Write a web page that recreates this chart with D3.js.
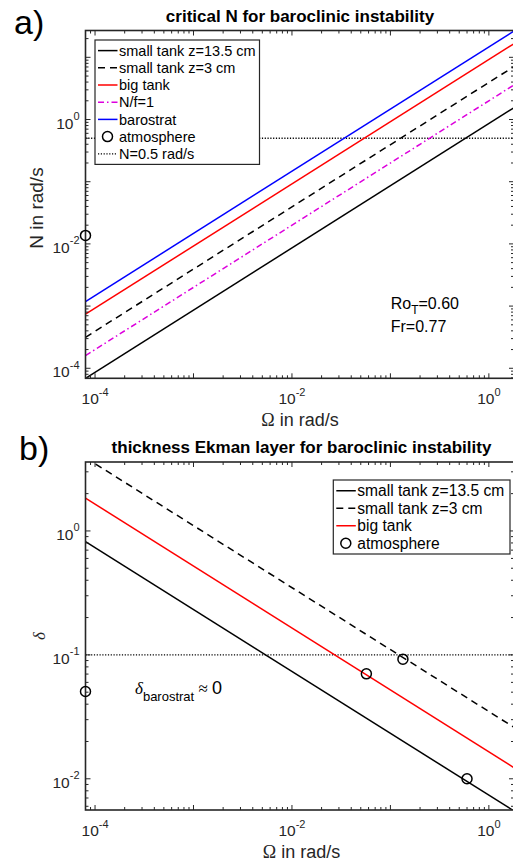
<!DOCTYPE html>
<html lang="en">
<head>
<meta charset="UTF-8">
<title>baroclinic instability</title>
<script src="https://cdn.jsdelivr.net/npm/d3@7"></script>
<style>
  html, body { margin: 0; padding: 0; background: #fff; }
  svg { display: block; font-family: "Liberation Sans", Arial, Helvetica, sans-serif; }
</style>
</head>
<body>
<svg width="513" height="861"></svg>
<script>
// Omega range shared by both panels (rad/s)
const omegaEnds = [8e-5, 1.8]

// panel a: critical N, read at the two ends of omegaEnds
const seriesA = ['small tank z=13.5 cm', 'small tank z=3 cm', 'big tank', 'N/f=1', 'barostrat']
const nStart = [6.9e-5, 3.15e-4, 7.4e-4, 1.6e-4, 1.18e-3]
const nEnd = [1.55, 7.1, 16.6, 3.6, 26.5]
const atmosA = [[8e-5, 0.0137]]
const nLimit = 0.5

// panel b: thickness of the Ekman layer
const seriesB = ['small tank z=13.5 cm', 'small tank z=3 cm', 'big tank']
const deltaStart = [0.82, 3.9, 1.84]
const deltaEnd = [0.0055, 0.026, 0.0123]
const atmosB = [[8e-5, 0.0506], [0.057, 0.0703], [0.134, 0.0923], [0.6, 0.01]]
const deltaLimit = 0.1

const xTickLabels = [1e-4, 1e-2, 1]
const yTickLabelsA = [1e-4, 1e-2, 1]
const yTickLabelsB = [1e-2, 1e-1, 1]

const styles = {
  'small tank z=13.5 cm': { color: '#000', dash: null },
  'small tank z=3 cm': { color: '#000', dash: '7,5' },
  'big tank': { color: '#ff0000', dash: null },
  'N/f=1': { color: '#dd00dd', dash: '6,3,1.5,3' },
  'barostrat': { color: '#0000ff', dash: null }
}
const axisColor = '#262626'
const dotted = '1.2,1.6'
const serif = '"Liberation Serif", "Times New Roman", serif'

const svg = d3.select('svg')
const left = 85.5, right = 514

function logTicks(domain) {
  const out = []
  const e0 = Math.floor(Math.log10(domain[0])), e1 = Math.ceil(Math.log10(domain[1]))
  for (let e = e0; e <= e1; e++) {
    for (let k = 1; k <= 9; k++) {
      const v = k * Math.pow(10, e)
      if (v >= domain[0] * 0.999 && v <= domain[1] * 1.001) out.push({ v, major: k === 1 })
    }
  }
  return out
}

function powLabel(g, v, x, y, anchor) {
  const t = g.append('text')
    .attr('x', x).attr('y', y)
    .attr('text-anchor', anchor)
    .attr('font-size', 15.5)
    .attr('fill', axisColor)
  t.append('tspan').text('10')
  t.append('tspan').attr('dy', -8.5).attr('font-size', 11).text(Math.round(Math.log10(v)))
}

function panel(id, top, bottom, yDomain, yLabels) {
  const x = d3.scaleLog().domain(omegaEnds).range([left, right])
  const y = d3.scaleLog().domain(yDomain).range([bottom, top])
  const g = svg.append('g')

  svg.append('clipPath').attr('id', 'clip-' + id)
    .append('rect').attr('x', left).attr('y', top)
    .attr('width', right - left).attr('height', bottom - top)

  const plot = g.append('g').attr('clip-path', `url(#clip-${id})`)

  // ticks on all four sides, pointing inward
  const ax = g.append('g').attr('stroke', axisColor).attr('stroke-width', 1)
  logTicks(omegaEnds).forEach(t => {
    const len = t.major ? 5 : 3
    const px = x(t.v)
    ax.append('line').attr('x1', px).attr('x2', px).attr('y1', bottom).attr('y2', bottom - len)
    ax.append('line').attr('x1', px).attr('x2', px).attr('y1', top).attr('y2', top + len)
  })
  logTicks(yDomain).forEach(t => {
    const len = t.major ? 5 : 3
    const py = y(t.v)
    ax.append('line').attr('x1', left).attr('x2', left + len).attr('y1', py).attr('y2', py)
    ax.append('line').attr('x1', right).attr('x2', right - len).attr('y1', py).attr('y2', py)
  })

  g.append('rect')
    .attr('x', left).attr('y', top)
    .attr('width', right - left).attr('height', bottom - top)
    .attr('fill', 'none').attr('stroke', axisColor).attr('stroke-width', 1.6)

  xTickLabels.forEach(v => powLabel(g, v, x(v), bottom + 26, 'middle'))
  yLabels.forEach(v => powLabel(g, v, left - 6, y(v) + 9, 'end'))

  return { x, y, g, plot }
}

function drawLines(p, names, starts, ends) {
  const line = d3.line().x(d => p.x(d[0])).y(d => p.y(d[1]))
  names.forEach((name, i) => {
    const s = styles[name]
    p.plot.append('path')
      .datum([[omegaEnds[0], starts[i]], [omegaEnds[1], ends[i]]])
      .attr('d', line)
      .attr('fill', 'none')
      .attr('stroke', s.color)
      .attr('stroke-width', 1.5)
      .attr('stroke-dasharray', s.dash)
  })
}

function drawLimit(p, value) {
  p.plot.append('line')
    .attr('x1', left).attr('x2', right)
    .attr('y1', p.y(value)).attr('y2', p.y(value))
    .attr('stroke', '#000').attr('stroke-width', 1.3)
    .attr('stroke-dasharray', dotted)
}

function drawCircles(p, pts) {
  p.g.selectAll(null).data(pts).enter().append('circle')
    .attr('cx', d => p.x(d[0]))
    .attr('cy', d => p.y(d[1]))
    .attr('r', 5)
    .attr('fill', 'none')
    .attr('stroke', '#000')
    .attr('stroke-width', 1.5)
}

function legend(entries, x0, y0, w, rowH, fontSize) {
  const h = entries.length * rowH + 4
  const lg = svg.append('g')
  lg.append('rect').attr('x', x0).attr('y', y0).attr('width', w).attr('height', h)
    .attr('fill', '#fff').attr('stroke', axisColor).attr('stroke-width', 1.2)
  entries.forEach((e, i) => {
    const cy = y0 + 2 + rowH * (i + 0.5)
    if (e.kind === 'marker') {
      lg.append('circle').attr('cx', x0 + 12.5).attr('cy', cy).attr('r', 5)
        .attr('fill', 'none').attr('stroke', '#000').attr('stroke-width', 1.5)
    } else {
      lg.append('line')
        .attr('x1', x0 + 3).attr('x2', x0 + 22.5).attr('y1', cy).attr('y2', cy)
        .attr('stroke', e.color).attr('stroke-width', e.kind === 'dotted' ? 1.3 : 1.5)
        .attr('stroke-dasharray', e.dash)
    }
    lg.append('text').attr('x', x0 + 24).attr('y', cy + fontSize * 0.36)
      .attr('font-size', fontSize).attr('fill', '#000').text(e.name)
  })
}

// ---- panel a ----
const pa = panel('a', 30.5, 378.3, [6.9e-5, 27], yTickLabelsA)
drawLimit(pa, nLimit)
drawLines(pa, seriesA, nStart, nEnd)
drawCircles(pa, atmosA)

legend(
  seriesA.map(n => ({ name: n, color: styles[n].color, dash: styles[n].dash }))
    .concat([{ name: 'atmosphere', kind: 'marker' },
             { name: 'N=0.5 rad/s', kind: 'dotted', color: '#000', dash: dotted }]),
  95, 40, 164.5, 17.2, 14.5)

svg.append('text').attr('x', 300).attr('y', 22).attr('text-anchor', 'middle')
  .attr('font-size', 17).attr('font-weight', 'bold').text('critical N for baroclinic instability')
svg.append('text').attr('x', 14).attr('y', 34).attr('font-size', 34).text('a)')

svg.append('text').attr('transform', 'translate(43,208) rotate(-90)')
  .attr('text-anchor', 'middle').attr('font-size', 19).attr('fill', axisColor)
  .text('N in rad/s')

const xa = svg.append('text').attr('x', 300).attr('y', 426).attr('text-anchor', 'middle')
  .attr('font-size', 18).attr('fill', axisColor)
xa.append('tspan').attr('font-family', serif).text('\u03A9')
xa.append('tspan').text(' in rad/s')

const ro = svg.append('text').attr('x', 390.7).attr('y', 309.3).attr('font-size', 16).attr('fill', '#000')
ro.append('tspan').text('Ro')
ro.append('tspan').attr('dy', 5).attr('font-size', 12).text('T')
ro.append('tspan').attr('dy', -5).text('=0.60')
svg.append('text').attr('x', 390.7).attr('y', 331.7).attr('font-size', 16).text('Fr=0.77')

// ---- panel b ----
const pb = panel('b', 462, 810, [5.6e-3, 3.6], yTickLabelsB)
drawLimit(pb, deltaLimit)
drawLines(pb, seriesB, deltaStart, deltaEnd)
drawCircles(pb, atmosB)

legend(
  seriesB.map(n => ({ name: n, color: styles[n].color, dash: styles[n].dash }))
    .concat([{ name: 'atmosphere', kind: 'marker' }]),
  333.3, 480, 176.7, 17.5, 15.6)

svg.append('text').attr('x', 301.5).attr('y', 453).attr('text-anchor', 'middle')
  .attr('font-size', 17).attr('font-weight', 'bold').text('thickness Ekman layer for baroclinic instability')
svg.append('text').attr('x', 19).attr('y', 460).attr('font-size', 34).text('b)')

svg.append('text').attr('transform', 'translate(45,636) rotate(-90)')
  .attr('text-anchor', 'middle').attr('font-size', 17).attr('font-style', 'italic')
  .attr('font-family', serif).attr('fill', axisColor)
  .text('\u03B4')

const xb = svg.append('text').attr('x', 301.5).attr('y', 858).attr('text-anchor', 'middle')
  .attr('font-size', 18).attr('fill', axisColor)
xb.append('tspan').attr('font-family', serif).text('\u03A9')
xb.append('tspan').text(' in rad/s')

const db = svg.append('text').attr('x', 135).attr('y', 694).attr('font-size', 17).attr('fill', '#000')
db.append('tspan').attr('font-style', 'italic').attr('font-family', serif).text('\u03B4')
db.append('tspan').attr('dy', 7).attr('font-size', 13).text('barostrat')
db.append('tspan').attr('dy', -7).attr('font-family', serif).text(' \u2248 ')
db.append('tspan').attr('font-size', 18).text('0')
</script>
</body>
</html>
